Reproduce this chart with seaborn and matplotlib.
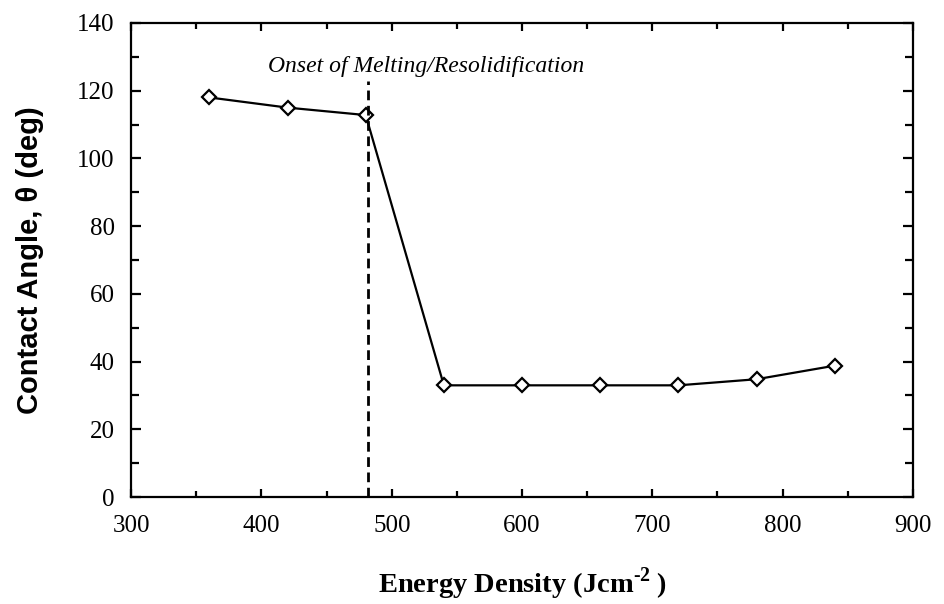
import matplotlib
matplotlib.use("Agg")
import matplotlib.pyplot as plt
import pandas as pd
import seaborn as sns
from matplotlib.ticker import MultipleLocator

energy_density = [360, 420, 480, 540, 600, 660, 720, 780, 840]
contact_angle = [118, 115, 112.8, 33, 33, 33, 33, 34.8, 38.8]
onset_x = 482
onset_label = "Onset of Melting/Resolidification"

df = pd.DataFrame({"energy": energy_density, "angle": contact_angle})

sns.set_style("ticks")
plt.rcParams["font.family"] = ["Liberation Serif", "DejaVu Serif"]
plt.rcParams["text.color"] = "black"
plt.rcParams["axes.labelcolor"] = "black"
plt.rcParams["mathtext.fontset"] = "custom"
plt.rcParams["mathtext.rm"] = "Liberation Serif:bold"
plt.rcParams["mathtext.bf"] = "Liberation Serif:bold"

fig = plt.figure(figsize=(9.44, 6.04), dpi=100)
ax = fig.add_axes([0.139, 0.177, 0.828, 0.785])

sns.lineplot(
    data=df, x="energy", y="angle", ax=ax, color="black", linewidth=1.6,
    marker="D", markersize=7, markerfacecolor="white",
    markeredgecolor="black", markeredgewidth=1.6,
)

# onset of melting marker line
ax.plot([onset_x, onset_x], [0, 123], color="black", linestyle=(0, (3.5, 2)),
        linewidth=2)
ax.text(405, 125.5, onset_label, ha="left", va="baseline",
        fontsize=17, style="italic")

ax.set_xlim(300, 900)
ax.set_ylim(0, 140)
ax.xaxis.set_major_locator(MultipleLocator(100))
ax.xaxis.set_minor_locator(MultipleLocator(50))
ax.yaxis.set_major_locator(MultipleLocator(20))
ax.yaxis.set_minor_locator(MultipleLocator(10))
ax.tick_params(which="both", direction="in", top=True, right=True,
               width=1.6, labelsize=18, colors="black")
ax.tick_params(axis="x", which="major", length=6, pad=13)
ax.tick_params(axis="x", which="minor", length=4.5)
ax.tick_params(axis="y", which="major", length=7, pad=12)
ax.tick_params(axis="y", which="minor", length=6)
for sp in ax.spines.values():
    sp.set_linewidth(1.6)
    sp.set_color("black")

ax.set_xlabel("Energy Density (Jcm$^{\\text{-2}}$\u2009)", fontsize=20.5,
              fontweight="bold", labelpad=20)
ax.set_ylabel("Contact Angle, \u03b8 (deg)", fontsize=21,
              fontweight="bold", family=["Liberation Sans", "DejaVu Sans"],
              labelpad=24)

fig.savefig("out.png", dpi=100)
